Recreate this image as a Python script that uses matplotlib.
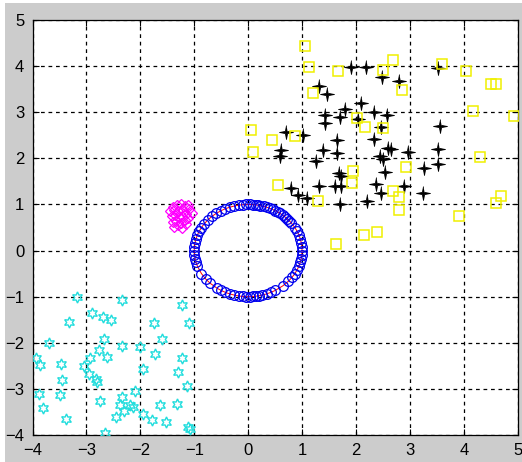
"""Scatter of five point groups in MATLAB figure style."""

import numpy as np
import matplotlib
import matplotlib.pyplot as plt
from matplotlib.patches import Rectangle
from matplotlib.path import Path

matplotlib.use("Agg")

# black four-point stars
star_x = [1.90, 2.18, 3.52, 2.49, 2.79, 1.31, 1.47, 2.10, 1.79, 1.43, 1.70, 2.34,
          2.58, 2.04, 1.43, 3.55, 2.46, 0.70, 1.01, 1.65, 2.34, 0.61, 0.60, 1.39,
          1.65, 2.60, 2.65, 2.97, 3.52, 2.45, 2.51, 1.25, 3.52, 3.27, 2.54, 1.69,
          1.72, 0.80, 1.31, 1.61, 1.72, 2.37, 2.89, 0.93, 1.10, 2.47, 3.24, 1.70,
          2.20]
star_y = [3.97, 3.99, 3.95, 3.77, 3.68, 3.57, 3.39, 3.21, 3.08, 2.95, 2.90, 3.01,
          2.94, 2.85, 2.76, 2.70, 2.67, 2.57, 2.50, 2.40, 2.42, 2.18, 2.05, 2.18,
          2.12, 2.23, 2.20, 2.14, 2.20, 2.05, 1.98, 1.94, 1.88, 1.78, 1.70, 1.68,
          1.62, 1.36, 1.39, 1.39, 1.40, 1.44, 1.41, 1.20, 1.15, 1.25, 1.25, 1.02,
          1.07]

# yellow squares
sq_x = [1.06, 1.12, 1.67, 2.51, 2.68, 3.59, 4.05, 4.50, 4.60, 1.21, 2.85, 4.18,
        4.93, 0.06, 2.01, 2.17, 2.51, 0.86, 0.44, 0.09, 4.30, 2.93, 1.94, 1.92,
        0.55, 2.68, 2.80, 2.79, 1.30, 4.69, 4.59, 3.91, 1.63, 2.14, 2.39]
sq_y = [4.44, 3.97, 3.90, 3.92, 4.13, 4.04, 3.90, 3.61, 3.61, 3.41, 3.48, 3.03,
        2.92, 2.61, 2.87, 2.67, 2.65, 2.48, 2.40, 2.14, 2.03, 1.82, 1.73, 1.46,
        1.42, 1.29, 1.17, 0.89, 1.08, 1.18, 1.04, 0.75, 0.14, 0.33, 0.41]

# cyan hexagrams
hex_x = [-3.18, -2.34, -1.22, -2.90, -3.33, -2.70, -2.54, -1.74, -1.10, -3.69,
         -2.67, -1.60, -2.77, -2.34, -2.00, -2.61, -1.72, -3.93, -3.86, -3.47,
         -2.93, -3.04, -2.96, -2.82, -2.81, -1.95, -1.22, -1.30, -3.46, -3.88,
         -3.49, -3.80, -3.38, -2.74, -2.34, -2.37, -2.30, -2.20, -2.13, -2.10,
         -2.45, -1.95, -1.79, -1.63, -1.53, -1.32, -1.14, -1.12, -1.07, -2.66]
hex_y = [-1.00, -1.08, -1.19, -1.35, -1.56, -1.45, -1.50, -1.58, -1.58, -2.00,
         -1.92, -1.92, -2.15, -2.08, -2.10, -2.30, -2.25, -2.32, -2.49, -2.45,
         -2.33, -2.51, -2.68, -2.79, -2.86, -2.57, -2.34, -2.63, -2.80, -3.11,
         -3.13, -3.42, -3.65, -3.26, -3.18, -3.36, -3.47, -3.35, -3.40, -3.04,
         -3.60, -3.55, -3.67, -3.35, -3.71, -3.33, -2.93, -3.83, -3.86, -3.96]

# magenta diamonds
dia_x = [-1.40, -1.32, -1.25, -1.18, -1.12, -1.45, -1.38, -1.30, -1.20, -1.10,
         -1.42, -1.35, -1.28, -1.22, -1.15, -1.05, -1.40, -1.33, -1.25, -1.18,
         -1.12, -1.38, -1.30, -1.22, -1.15]
dia_y = [0.95, 0.98, 1.00, 0.97, 0.99, 0.85, 0.88, 0.85, 0.88, 0.90,
         0.75, 0.78, 0.72, 0.76, 0.80, 0.82, 0.62, 0.65, 0.60, 0.66,
         0.70, 0.52, 0.55, 0.50, 0.57]

# blue circles on the unit ring, angles in degrees
ring_deg = [0, 5, 10, 15, 20, 25, 30, 37, 40, 44, 47, 50, 54, 57, 60, 63, 66,
            70, 73, 77, 80, 82, 85, 88, 92, 95, 100, 105, 110, 115, 120, 126,
            132, 138, 145, 150, 155, 160, 165, 170, 175, 180, 185, 190, 195,
            200, 210, 218, 225, 235, 240, 245, 250, 255, 260, 265, 268, 272,
            275, 278, 282, 285, 290, 295, 300, 310, 318, 325, 330, 335, 340,
            345, 350, 355]

# thin four-point sparkle marker
_a = np.deg2rad(np.arange(0, 360, 45) + 90)
_r = np.tile([1.0, 0.22], 4)
sparkle = Path(np.column_stack([_r * np.cos(_a), _r * np.sin(_a)]))

W, H = 522, 462
fig = plt.figure(figsize=(W / 100, H / 100), dpi=100)
fig.patch.set_facecolor("white")
fig.patches.append(Rectangle((5 / W, 0), 1, 1 - 3 / H, transform=fig.transFigure,
                             facecolor="#cccccc", edgecolor="none", zorder=-10))

ax = fig.add_axes([32.5 / W, (H - 435) / H, (517.7 - 32.5) / W, (435 - 20) / H])
ax.set_facecolor("white")

t = np.deg2rad(ring_deg)
rx, ry = np.cos(t), np.sin(t)
ax.plot(np.append(rx, rx[0]), np.append(ry, ry[0]), color="red", lw=0.7, zorder=2)
ax.plot(rx, ry, "o", mfc="none", mec="#0000ee", ms=7, mew=0.9, zorder=3)

ax.plot(star_x, star_y, ls="none", marker=sparkle, color="black", ms=10,
        mew=0.6, zorder=3)
ax.plot(sq_x, sq_y, "s", mfc="none", mec="#f0f000", ms=7.5, mew=1.1, zorder=3)
ax.plot(hex_x, hex_y, ls="none", marker=(6, 1, 0), mfc="none", mec="#22dddd",
        ms=8, mew=1.0, zorder=3)
ax.plot(dia_x, dia_y, "D", mfc="none", mec="#ff00ff", ms=5.5, mew=0.9, zorder=3)

ax.set_xlim(-4, 5)
ax.set_ylim(-4, 5)
ax.set_xticks(range(-4, 6))
ax.set_yticks(range(-4, 6))
ax.grid(True, color="black", ls=(0, (3, 3)), lw=0.9)
ax.set_axisbelow(True)
ax.tick_params(direction="in", length=4, width=0.8, labelsize=12,
               top=True, right=True, pad=6)
for lab in ax.get_xticklabels() + ax.get_yticklabels():
    lab.set_family("Liberation Sans")
for s in ax.spines.values():
    s.set_linewidth(0.9)

fig.savefig("out.png", dpi=100)
